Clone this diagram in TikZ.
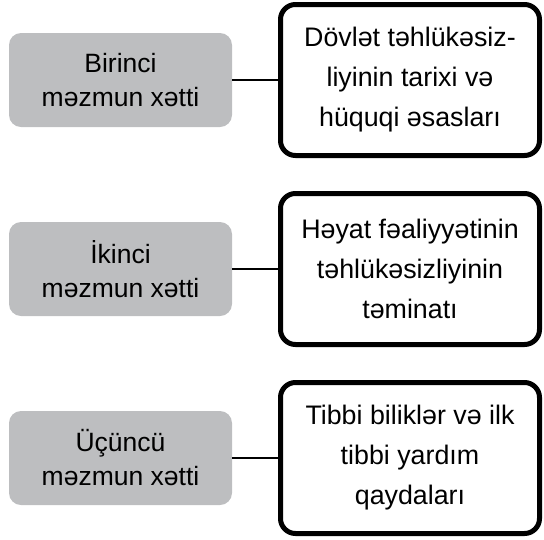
\documentclass[tikz,border=0pt]{standalone}
\usepackage{fontspec}
\setmainfont{Liberation Sans}
\usetikzlibrary{positioning}
\definecolor{boxgray}{RGB}{189,190,192}

\begin{document}
\begin{tikzpicture}[x=1pt,y=1pt,node distance=189pt,on grid,
    linebox/.style={fill=boxgray,rounded corners=12pt,minimum width=223pt,
        minimum height=94pt,align=center,font=\fontsize{26.5}{34}\selectfont},
    topicbox/.style={draw=black,line width=5pt,rounded corners=15pt,fill=white,
        minimum width=259pt,minimum height=151pt,align=center,
        font=\fontsize{26.8}{40}\selectfont},
    link/.style={draw=black,line width=2.5pt}]
    \useasboundingbox (0,0) rectangle (544,-539);
    \node[linebox] (l1) at (120.5,-80) {Birinci\\məzmun xətti};
    \node[linebox] (l2) [below=of l1] {İkinci\\məzmun xətti};
    \node[linebox] (l3) [below=of l2] {Üçüncü\\məzmun xətti};
    \node[topicbox] (r1) [right=289.5pt of l1] {Dövlət təhlükəsiz-\\liyinin tarixi və\\hüquqi əsasları};
    \node[topicbox] (r2) [right=289.5pt of l2] {Həyat fəaliyyətinin\\təhlükəsizliyinin\\təminatı};
    \node[topicbox] (r3) [right=289.5pt of l3] {Tibbi biliklər və ilk\\tibbi yardım\\qaydaları};
    \path[link]
        (l1) edge (r1)
        (l2) edge (r2)
        (l3) edge (r3);
\end{tikzpicture}
\end{document}
